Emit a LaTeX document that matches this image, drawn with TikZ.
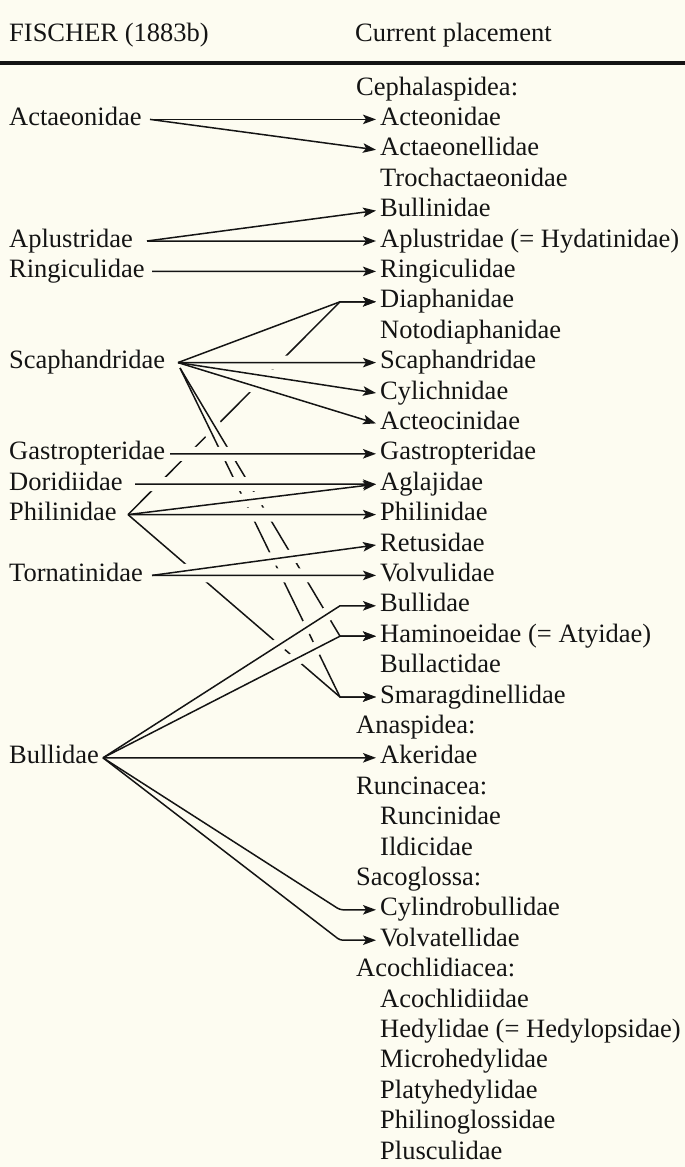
\documentclass[tikz,border=0pt]{standalone}
\usepackage{fontspec}
\setmainfont{Liberation Serif}
\usetikzlibrary{arrows.meta}
\definecolor{bg}{RGB}{253,252,241}
\definecolor{ink}{RGB}{20,20,20}
\newcommand{\fsz}{\fontsize{26.5}{30}\selectfont}
\tikzset{
  lbl/.style={anchor=base west, inner sep=0pt, font=\fsz, text=ink},
  conn/.style={draw=ink, line width=1.5pt, line join=round, -{Stealth[length=13pt,width=9.5pt,inset=3pt]}},
  halo/.style={draw=bg, line width=14pt, line cap=butt, shorten <=14pt, shorten >=16pt},
}
\begin{document}
\begin{tikzpicture}[x=1pt,y=-1pt]
\fill[bg] (0,0) rectangle (685,1167);
\useasboundingbox (0,0) rectangle (685,1167);
% header
\node[lbl] (h1) at (9,41) {FISCHER (1883b)};
\node[lbl] (h2) at (355,41) {Current placement};
\draw[ink, line width=4pt] (0,63) -- (685,63);
% right column
\foreach \i/\xx/\t in {
 0/356/{Cephalaspidea:}, 1/380/{Acteonidae}, 2/380/{Actaeonellidae}, 3/380/{Trochactaeonidae},
 4/380/{Bullinidae}, 5/380/{Aplustridae (= Hydatinidae)}, 6/380/{Ringiculidae},
 7/380/{Diaphanidae}, 8/380/{Notodiaphanidae}, 9/380/{Scaphandridae}, 10/380/{Cylichnidae},
 11/380/{Acteocinidae}, 12/380/{Gastropteridae}, 13/380/{Aglajidae}, 14/380/{Philinidae},
 15/380/{Retusidae}, 16/380/{Volvulidae}, 17/380/{Bullidae}, 18/380/{Haminoeidae (= Atyidae)},
 19/380/{Bullactidae}, 20/380/{Smaragdinellidae}, 21/356/{Anaspidea:}, 22/380/{Akeridae},
 23/356/{Runcinacea:}, 24/380/{Runcinidae}, 25/380/{Ildicidae}, 26/356/{Sacoglossa:},
 27/380/{Cylindrobullidae}, 28/380/{Volvatellidae}, 29/356/{Acochlidiacea:},
 30/380/{Acochlidiidae}, 31/380/{Hedylidae (= Hedylopsidae)}, 32/380/{Microhedylidae},
 33/380/{Platyhedylidae}, 34/380/{Philinoglossidae}, 35/380/{Plusculidae}}
  \node[lbl] (r\i) at (\xx,{95+30.4*\i}) {\t};
\foreach \i in {1,2,4,5,6,7,9,10,11,12,13,14,15,16,17,18,20,22,27,28}
  \coordinate (t\i) at ([shift={(-4pt,6pt)}]r\i.base west);
\foreach \i in {7,17,18,20,27,28}
  \coordinate (k\i) at ([shift={(-40pt,6pt)}]r\i.base west);
% left column
\node[lbl] (l1) at (9,125.4) {Actaeonidae};
\node[lbl] (l5) at (9,247) {Aplustridae};
\node[lbl] (l6) at (9,277.4) {Ringiculidae};
\node[lbl] (l9) at (9,368.6) {Scaphandridae};
\node[lbl] (l12) at (9,459.8) {Gastropteridae};
\node[lbl] (l13) at (9,490.2) {Doridiidae};
\node[lbl] (l14) at (9,520.6) {Philinidae};
\node[lbl] (l16) at (9,581.4) {Tornatinidae};
\node[lbl] (l22) at (9,763.8) {Bullidae};
\coordinate (sAct) at (150,119.4);
\coordinate (sApl) at (147,241);
\coordinate (sRing) at (152,271.4);
\coordinate (sScaph) at (178,362.6);
\coordinate (sScaphB) at (180,368);
\coordinate (sGast) at (170,453.8);
\coordinate (sDor) at (135,484.2);
\coordinate (sPhil) at (128,514.6);
\coordinate (sTorn) at (152,575.4);
\coordinate (sBull) at (103,757.8);
% lowest layer
\draw[conn] (sPhil) -- (k7) -- (t7);
\draw[halo] (sScaphB) -- (k18);
\draw[halo] (sScaphB) -- (k20);
\draw[conn] (sScaphB) -- (k18) -- (t18);
\draw[conn] (sScaphB) -- (k20) -- (t20);
\draw[conn] (sPhil) -- (k20) -- (t20);
% halos of upper lines
\draw[halo] (sScaph) -- (t9);
\draw[halo] (sScaph) -- (t10);
\draw[halo] (sScaph) -- (t11);
\draw[halo, shorten <=4pt] (sGast) -- (t12);
\draw[halo] (sDor) -- (t13);
\draw[halo] (sPhil) -- (t13);
\draw[halo] (sPhil) -- (t14);
\draw[halo] (sTorn) -- (t15);
\draw[halo] (sTorn) -- (t16);
\draw[halo, shorten >=8pt] (sBull) -- (k17);
\draw[halo] (sBull) -- (k18);
% upper lines
\draw[conn] (sAct) -- (t1);
\draw[conn] (sAct) -- (t2);
\draw[conn] (sApl) -- (t4);
\draw[conn] (sApl) -- (t5);
\draw[conn] (sRing) -- (t6);
\draw[conn] (sScaph) -- (k7) -- (t7);
\draw[conn] (sScaph) -- (t9);
\draw[conn] (sScaph) -- (t10);
\draw[conn] (sScaph) -- (t11);
\draw[conn] (sGast) -- (t12);
\draw[conn] (sDor) -- (t13);
\draw[conn] (sPhil) -- (t13);
\draw[conn] (sPhil) -- (t14);
\draw[conn] (sTorn) -- (t15);
\draw[conn] (sTorn) -- (t16);
\draw[conn] (sBull) -- (k17) -- (t17);
\draw[conn] (sBull) -- (k18) -- (t18);
\draw[conn] (sBull) -- (t22);
\draw[conn, rounded corners=3pt] (sBull) -- (k27) -- (t27);
\draw[conn, rounded corners=3pt] (sBull) -- (k28) -- (t28);
\end{tikzpicture}
\end{document}
